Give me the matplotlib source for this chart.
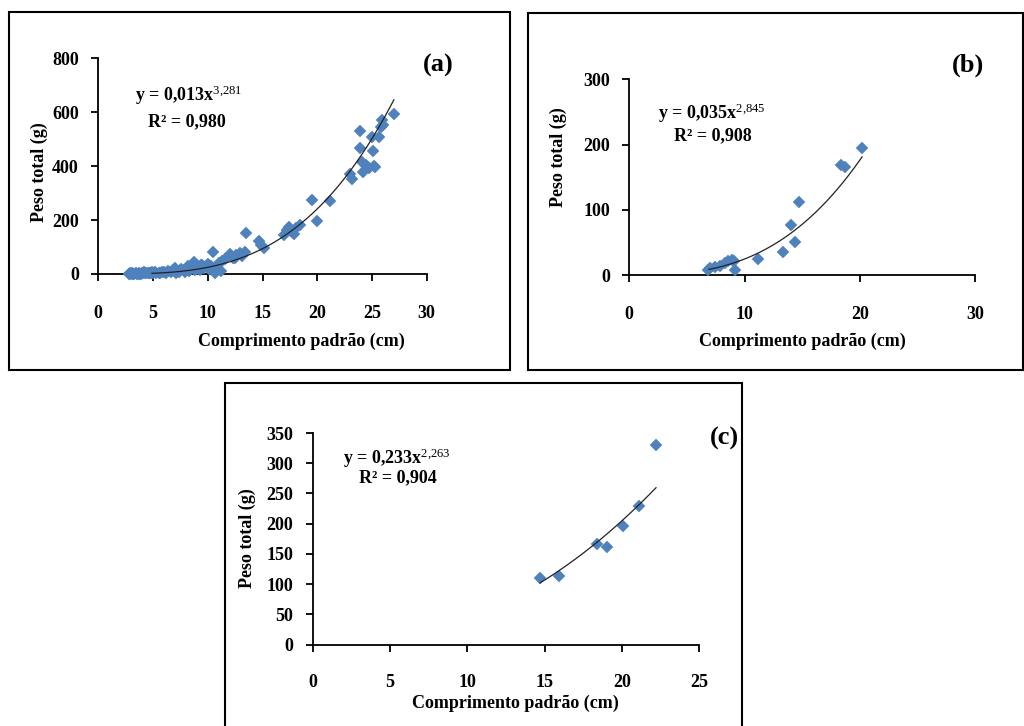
import numpy as np
import matplotlib
matplotlib.use("Agg")
import matplotlib.pyplot as plt
from matplotlib.patches import Rectangle

plt.rcParams['font.family'] = ['Liberation Serif', 'DejaVu Serif']
plt.rcParams['font.weight'] = 'bold'
plt.rcParams['mathtext.fontset'] = 'custom'
plt.rcParams['mathtext.rm'] = 'Liberation Serif:weight=normal'
plt.rcParams['mathtext.it'] = 'Liberation Serif:style=italic'
plt.rcParams['mathtext.bf'] = 'Liberation Serif:weight=bold'

# ---------------- data ----------------
a_len = [2.8, 2.9, 3.0, 3.1, 3.2, 3.3, 3.4, 3.5, 3.6, 3.7, 3.8, 3.9, 4.0,
         4.1, 4.2, 4.3, 4.4, 4.5, 4.6, 4.7, 4.8, 4.9, 5.0, 5.2, 5.3, 5.5,
         5.6, 5.8, 6.0, 6.2, 6.4, 6.6, 6.8, 7.0, 7.1, 7.2, 7.4, 7.6, 7.8,
         7.9, 8.0, 8.2, 8.3, 8.4, 8.6, 8.7, 8.8, 8.9, 9.0, 9.1, 9.3, 9.4,
         9.5, 9.7, 9.8, 10.0, 10.1, 10.3, 10.5, 10.6, 10.7, 10.8, 11.0, 11.2,
         11.3, 11.6, 12.0, 12.3, 12.5, 12.6, 12.9, 13.1, 13.4, 13.5, 14.7,
         14.9, 15.1, 17.0, 17.2, 17.4, 17.6, 17.9, 18.1, 18.4, 19.5, 20.0,
         21.2, 23.0, 23.2, 23.9, 23.9, 24.1, 24.2, 24.5, 24.7, 25.0, 25.1,
         25.2, 25.3, 25.6, 25.8, 25.9, 26.0, 27.0]
a_wt = [0.5, 2, 0.6, 3, 0.8, 1.0, 4, 1.2, 1.5, 5, 1.6, 1.8, 3,
        2.0, 6, 2.2, 2.5, 5, 2.8, 4, 3.0, 6, 3.5, 7, 4.5, 3,
        5.5, 8, 6.5, 4, 10, 7, 14, 22, 5, 12, 9, 18, 14,
        8, 20, 28, 12, 22, 30, 46, 16, 20, 25, 30, 15, 32,
        35, 22, 28, 38, 18, 30, 80, 12, 5, 20, 42, 10,
        48, 55, 74, 60, 58, 70, 78, 68, 82, 152, 124,
        108, 95, 145, 165, 175, 158, 148, 172, 180, 274, 197,
        270, 372, 351, 531, 466, 416, 380, 404, 392, 509, 457,
        402, 395, 509, 546, 571, 552, 592]

b_len = [6.8, 7.0, 7.4, 7.9, 8.3, 8.6, 8.9, 9.1, 9.2, 11.2, 13.3, 14.0, 14.4, 14.7, 18.4, 18.7, 20.2]
b_wt = [8, 10, 12, 14, 18, 21, 23, 22, 8, 24, 36, 76, 50, 112, 168, 165, 194]

c_len = [14.7, 15.9, 18.4, 19.0, 20.05, 21.1, 22.2]
c_wt = [111, 114, 167, 162, 196, 230, 330]

# power fit parameters shown on chart: (a, b, x range)
fit_a = (0.013, 3.281, 4.9, 27.0)
fit_b = (0.035, 2.845, 6.9, 20.2)
fit_c = (0.233, 2.263, 14.7, 22.2)

eq_a = ("0,013", "3{,}281", "0,980")
eq_b = ("0,035", "2{,}845", "0,908")
eq_c = ("0,233", "2{,}263", "0,904")

xlabel = "Comprimento padrão (cm)"
ylabel = "Peso total (g)"

W, H = 1024, 726
fig = plt.figure(figsize=(W / 100, H / 100), dpi=100)

def fx(x):
    return x / W

def fy(y):
    return 1 - y / H

def frame(x0, y0, x1, y1):
    fig.patches.append(Rectangle((fx(x0), fy(y1)), fx(x1) - fx(x0), fy(y0) - fy(y1),
                                 transform=fig.transFigure, fill=False,
                                 edgecolor='black', linewidth=1.5))

def make_axes(l, r, t, b):
    return fig.add_axes([fx(l), fy(b), fx(r) - fx(l), fy(t) - fy(b)])

BLUE = '#4F81BD'
TS = 13

def style(ax, xlim, xticks, ylim, yticks, xpad, ypad):
    ax.set_xlim(*xlim)
    ax.set_ylim(*ylim)
    ax.set_xticks(xticks)
    ax.set_yticks(yticks)
    for s in ['top', 'right']:
        ax.spines[s].set_visible(False)
    for s in ['left', 'bottom']:
        ax.spines[s].set_linewidth(1.3)
    ax.tick_params(axis='x', direction='out', length=5, width=1.3, labelsize=TS, pad=xpad)
    ax.tick_params(axis='y', direction='out', length=5, width=1.3, labelsize=TS, pad=ypad)
    ax.patch.set_alpha(0)
    for lab in ax.get_xticklabels() + ax.get_yticklabels():
        lab.set_fontweight('bold')

def plot_panel(ax, xs, ys, fit):
    ax.plot(xs, ys, linestyle='none', marker='D', markersize=6.4,
            markerfacecolor=BLUE, markeredgecolor=BLUE, markeredgewidth=0.3,
            clip_on=False, zorder=3)
    k, p, x0, x1 = fit
    xx = np.linspace(x0, x1, 200)
    ax.plot(xx, k * xx ** p, color='#222222', linewidth=0.9, zorder=4, clip_on=False)

def eq_text(x, y, coef, expo, r2x, r2y, r2):
    fig.text(fx(x), fy(y), r"y = %sx$^{\mathrm{%s}}$" % (coef, expo), fontsize=TS,
             fontweight='bold', ha='left', va='center')
    fig.text(fx(r2x), fy(r2y), "R² = %s" % r2, fontsize=TS, fontweight='bold',
             ha='left', va='center')

# ---------------- panel (a) ----------------
frame(9, 12, 510, 370)
axa = make_axes(98.3, 426.7, 58.3, 274)
plot_panel(axa, a_len, a_wt, fit_a)
style(axa, (0, 30), [0, 5, 10, 15, 20, 25, 30], (0, 800), [0, 200, 400, 600, 800], 17, 9)
fig.text(fx(301), fy(341.7), xlabel, fontsize=TS, fontweight='bold', ha='center', va='center')
fig.text(fx(39.3), fy(172.5), ylabel, fontsize=TS, fontweight='bold', ha='center', va='center', rotation=90)
eq_text(135, 95, eq_a[0], eq_a[1], 148.3, 121.7, eq_a[2])
fig.text(fx(438), fy(65), "(a)", fontsize=19, fontweight='bold', ha='center', va='center')

# ---------------- panel (b) ----------------
frame(528, 13, 1023, 370)
axb = make_axes(629.3, 975, 79.3, 275)
plot_panel(axb, b_len, b_wt, fit_b)
style(axb, (0, 30), [0, 10, 20, 30], (0, 300), [0, 100, 200, 300], 17, 9)
fig.text(fx(802.3), fy(341.7), xlabel, fontsize=TS, fontweight='bold', ha='center', va='center')
fig.text(fx(558.3), fy(157.5), ylabel, fontsize=TS, fontweight='bold', ha='center', va='center', rotation=90)
eq_text(658.3, 113, eq_b[0], eq_b[1], 674, 136, eq_b[2])
fig.text(fx(968), fy(65), "(b)", fontsize=19, fontweight='bold', ha='center', va='center')

# ---------------- panel (c) ----------------
frame(225, 383, 742, 740)
axc = make_axes(312.7, 699.3, 433, 644.7)
plot_panel(axc, c_len, c_wt, fit_c)
style(axc, (0, 25), [0, 5, 10, 15, 20, 25], (0, 350), [0, 50, 100, 150, 200, 250, 300, 350], 16, 9)
fig.text(fx(515.3), fy(703), xlabel, fontsize=TS, fontweight='bold', ha='center', va='center')
fig.text(fx(247), fy(538), ylabel, fontsize=TS, fontweight='bold', ha='center', va='center', rotation=90)
eq_text(342.7, 458, eq_c[0], eq_c[1], 358.7, 478, eq_c[2])
fig.text(fx(724), fy(438), "(c)", fontsize=19, fontweight='bold', ha='center', va='center')

fig.savefig("out.png", dpi=100, facecolor='white')
